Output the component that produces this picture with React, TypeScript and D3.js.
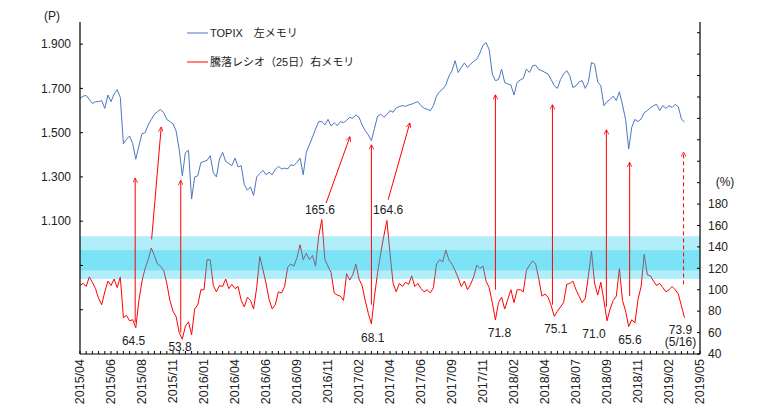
import React from 'react';
import * as d3 from 'd3';

// x categories: one tick label every 10 samples (samples are ~5 trading days apart)
const TICK_LABELS = ['2015/04','2015/06','2015/08','2015/11','2016/01','2016/04','2016/06','2016/09','2016/11','2017/02','2017/04','2017/06','2017/09','2017/11','2018/02','2018/04','2018/07','2018/09','2018/11','2019/02','2019/05'];
const SAMPLES_PER_TICK = 10;

// TOPIX (left axis, points)
const TOPIX = [
  1655,1665,1668,1650,1632,1640,1640,1645,1610,1670,
  1640,1675,1694,1660,1450,1470,1485,1450,1380,1440,
  1495,1500,1535,1560,1583,1595,1605,1590,1560,1550,
  1540,1508,1425,1305,1410,1420,1200,1300,1305,1365,
  1370,1375,1396,1320,1300,1381,1411,1370,1360,1351,
  1385,1345,1351,1265,1240,1255,1216,1300,1315,1330,
  1310,1321,1310,1334,1348,1336,1340,1336,1355,1351,
  1366,1385,1310,1411,1445,1480,1517,1550,1550,1535,
  1560,1530,1545,1532,1550,1545,1556,1569,1565,1580,
  1570,1535,1509,1490,1464,1520,1575,1584,1570,1582,
  1600,1592,1612,1618,1622,1619,1625,1629,1635,1640,
  1622,1610,1606,1599,1622,1665,1685,1697,1715,1755,
  1780,1825,1772,1795,1815,1795,1810,1822,1832,1860,
  1895,1907,1875,1765,1735,1740,1787,1727,1720,1715,
  1670,1727,1738,1745,1787,1772,1802,1805,1785,1780,
  1772,1765,1740,1712,1700,1740,1765,1780,1757,1704,
  1712,1730,1735,1700,1730,1817,1810,1730,1712,1622,
  1640,1650,1665,1645,1685,1625,1560,1426,1525,1560,
  1550,1562,1590,1600,1612,1622,1628,1600,1622,1610,
  1622,1614,1628,1617,1562,1547
];

// Advance-decline ratio, 25 days (right axis, %)
const RATIO = [
  104,106,103,112,107,101,92,86,98,108,
  104,110,102,112,74,76,71,72,64.5,90,
  108,120,128,139,132,124,122,118,106,90,
  80,75,60,53.8,66,70,58,82,86,100,
  100,128,128,104,98,104,103,110,101,105,
  101,103,90,84,93,90,82,102,131,119,
  106,91,82,86,98,97,103,121,124,122,
  130,142,128,134,128,132,122,150,165.6,128,
  122,116,97,95,94,90,115,109,114,124,
  110,104,90,78,68.1,94,116,134,150,164.6,
  134,106,98,106,103,107,105,113,103,106,
  101,98,100,97,102,124,128,126,137,128,
  124,118,111,103,108,100,105,112,123,120,
  122,108,102,88,71.8,88,93,82,91,100,
  88,100,100,98,118,123,127,124,110,94,
  96,93,85,75.1,80,84,88,105,106,108,
  100,94,88,92,113,136,106,95,107,90,
  71.0,82,90,94,120,90,80,65.6,72,69,
  91,103,133,114,113,108,104,106,102,98,
  100,103,100,96,85,73.9
];

const LEFT_TICKS = [700, 900, 1100, 1300, 1500, 1700, 1900];
const LEFT_LABELED = [1100, 1300, 1500, 1700, 1900];
const RIGHT_TICKS = d3.range(40, 341, 20);
const RIGHT_LABELED = [40, 60, 80, 100, 120, 140, 160, 180];

// shaded ratio bands (right-axis units)
const BANDS = [[110, 150], [118, 137]];

// annotation arrows: x in samples, from ratio value -> to TOPIX value
const ARROWS = [
  { x0: 17.8, r: 69.5, x1: 17.8, p: 1295, dashed: false },
  { x0: 23.1, r: 147, x1: 26.2, p: 1526, dashed: false },
  { x0: 32.5, r: 60, x1: 32.5, p: 1285, dashed: false },
  { x0: 79.4, r: 181, x1: 87.1, p: 1482, dashed: false },
  { x0: 94.0, r: 86, x1: 94.0, p: 1446, dashed: false },
  { x0: 99.4, r: 184, x1: 106.4, p: 1544, dashed: false },
  { x0: 134.0, r: 100, x1: 134.0, p: 1672, dashed: false },
  { x0: 152.4, r: 86, x1: 152.4, p: 1627, dashed: false },
  { x0: 169.8, r: 84, x1: 169.8, p: 1514, dashed: false },
  { x0: 177.3, r: 94, x1: 177.3, p: 1366, dashed: false },
  { x0: 194.7, r: 105, x1: 194.7, p: 1413, dashed: true },
];

// value labels: x in samples, y in ratio units
const VALUE_LABELS = [
  { x: 17.3, r: 52, text: '64.5' },
  { x: 32.3, r: 46.5, text: '53.8' },
  { x: 94.4, r: 55.5, text: '68.1' },
  { x: 135.3, r: 60.2, text: '71.8' },
  { x: 153.5, r: 63.9, text: '75.1' },
  { x: 165.8, r: 59.3, text: '71.0' },
  { x: 177.4, r: 53.7, text: '65.6' },
  { x: 193.7, r: 63, text: '73.9' },
  { x: 193.7, r: 51.2, text: '(5/16)' },
  { x: 77.4, r: 174.7, text: '165.6' },
  { x: 99.4, r: 174.7, text: '164.6' },
];

const W = 779, H = 418;
const L = 80, R = 700, T = 22, B = 354;
const FONT = "'Liberation Sans', Arial, 'Noto Sans CJK JP', sans-serif";
const BLUE = '#4a78c0';
const RED = '#ff0000';

export default function App() {
  const nTicks = TICK_LABELS.length - 1;
  const x = d3.scaleLinear().domain([0, nTicks * SAMPLES_PER_TICK]).range([L, R]);
  const yL = d3.scaleLinear().domain([500, 2000]).range([B, T]);
  const yR = d3.scaleLinear().domain([40, 350]).range([B, T]);

  const topixLine = d3.line<number>().x((_, i) => x(i)).y(d => yL(d))(TOPIX) || '';
  const ratioLine = d3.line<number>().x((_, i) => x(i)).y(d => yR(d))(RATIO) || '';

  const minorTicks = d3.range(0, nTicks * SAMPLES_PER_TICK + 0.001, 2);

  return (
    <svg width={W} height={H} style={{ position: 'absolute', left: 0, top: 0, background: '#fff' }} fontFamily={FONT}>
      <defs>
        <marker id="ah" viewBox="0 0 10 10" refX="10" refY="5" markerWidth="5" markerHeight="5" orient="auto">
          <path d="M0,0 L10,5 L0,10" fill="none" stroke={RED} strokeWidth="1.6" />
        </marker>
      </defs>

      {/* ratio line, then bands overlaid */}
      <path d={ratioLine} fill="none" stroke={RED} strokeWidth={1} />
      {BANDS.map((b, i) => (
        <rect key={i} x={L} width={R - L} y={yR(b[1])} height={yR(b[0]) - yR(b[1])} fill="rgb(0,200,240)" opacity={0.3} />
      ))}

      <path d={topixLine} fill="none" stroke={BLUE} strokeWidth={1} />

      {/* arrows */}
      {ARROWS.map((a, i) => (
        <line key={i} x1={x(a.x0)} y1={yR(a.r)} x2={x(a.x1)} y2={yL(a.p)} stroke={RED} strokeWidth={1}
          strokeDasharray={a.dashed ? '4,3' : undefined} markerEnd="url(#ah)" />
      ))}

      {/* value labels */}
      {VALUE_LABELS.map((v, i) => (
        <text key={i} x={x(v.x)} y={yR(v.r)} dy="0.35em" textAnchor="middle" fontSize={12} fill="#222">{v.text}</text>
      ))}

      {/* axes */}
      <line x1={L} x2={L} y1={T} y2={B} stroke="#000" strokeWidth={1.2} />
      <line x1={R} x2={R} y1={T} y2={B} stroke="#000" strokeWidth={1.2} />
      <line x1={L} x2={R} y1={B} y2={B} stroke="#000" strokeWidth={1.2} />

      {LEFT_TICKS.map(v => (
        <line key={v} x1={L} x2={L + 3} y1={yL(v)} y2={yL(v)} stroke="#000" />
      ))}
      {LEFT_LABELED.map(v => (
        <text key={v} x={L - 9} y={yL(v)} dy="0.35em" textAnchor="end" fontSize={12} fill="#222">
          {d3.format(',')(v).replace(',', '.')}
        </text>
      ))}
      {RIGHT_TICKS.map(v => (
        <line key={v} x1={R - 3} x2={R} y1={yR(v)} y2={yR(v)} stroke="#000" />
      ))}
      {RIGHT_LABELED.map(v => (
        <text key={v} x={R + 8} y={yR(v)} dy="0.35em" textAnchor="start" fontSize={12} fill="#222">{v}</text>
      ))}

      {minorTicks.map(t => (
        <line key={t} x1={x(t)} x2={x(t)} y1={B} y2={B - 3} stroke="#000" />
      ))}
      {TICK_LABELS.map((lab, i) => (
        <text key={lab} transform={`translate(${x(i * SAMPLES_PER_TICK)},${B + 5}) rotate(-90)`} dy="0.35em"
          textAnchor="end" fontSize={12.5} fill="#222">{lab}</text>
      ))}

      {/* unit labels */}
      <text x={52} y={16} dy="0.35em" textAnchor="middle" fontSize={12} fill="#222">(P)</text>
      <text x={725} y={182} dy="0.35em" textAnchor="middle" fontSize={12} fill="#222">(%)</text>

      {/* legend */}
      <line x1={187} x2={208} y1={33} y2={33} stroke={BLUE} strokeWidth={1} />
      <text x={210} y={33} dy="0.35em" fontSize={11} fill="#222">TOPIX　左メモリ</text>
      <line x1={187} x2={208} y1={62} y2={62} stroke={RED} strokeWidth={1} />
      <text x={210} y={62} dy="0.35em" fontSize={11} fill="#222">騰落レシオ（25日）右メモリ</text>
    </svg>
  );
}
